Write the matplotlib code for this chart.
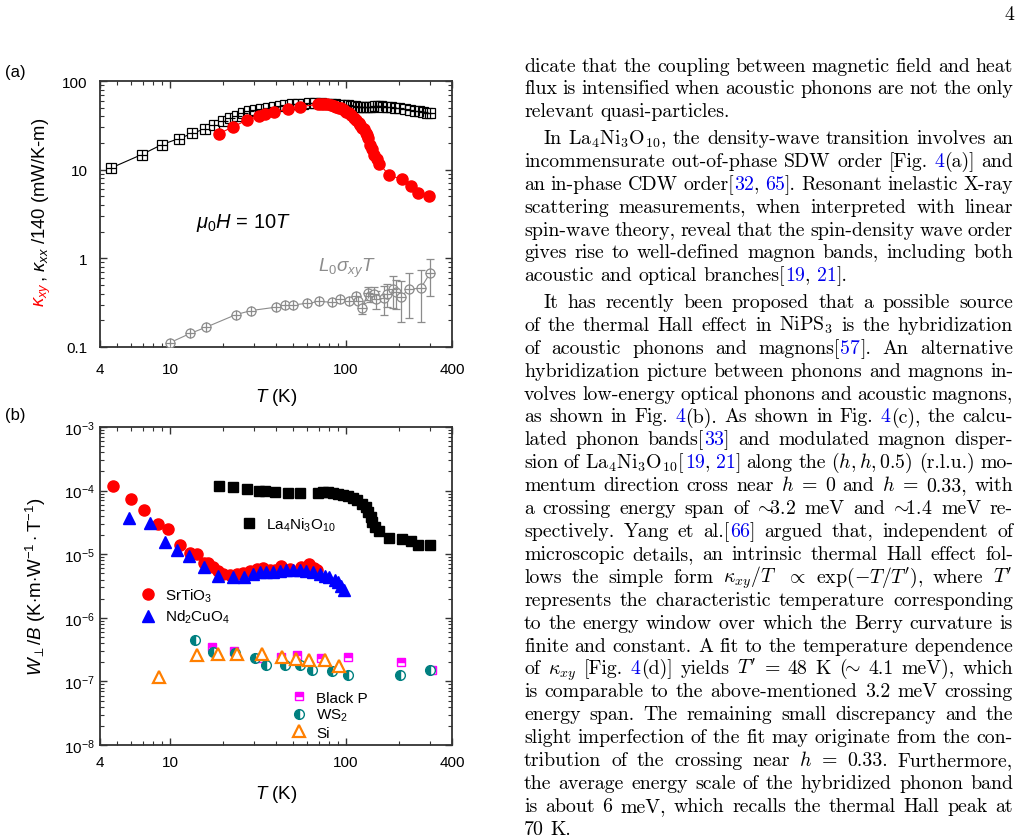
import matplotlib
matplotlib.use('Agg')
import matplotlib.pyplot as plt

plt.rcParams['font.family'] = 'Liberation Sans'
plt.rcParams['mathtext.fontset'] = 'custom'
plt.rcParams['mathtext.rm'] = 'Liberation Sans'
plt.rcParams['mathtext.it'] = 'Liberation Sans:italic'
plt.rcParams['mathtext.bf'] = 'Liberation Sans:bold'

W, H = 1021, 837

# ---- panel (a) data ----
kxx_T = [4.6, 6.9, 9.0, 11.2, 13.4, 15.7, 17.8, 20, 22, 24, 26, 28, 30.5, 33, 36, 39, 42, 45, 49, 53,
         57, 62, 67, 72, 77, 82, 87, 92, 97, 102, 107, 112, 117, 122, 127, 132, 137, 142, 147, 152,
         157, 162, 170, 180, 190, 200, 215, 230, 245, 260, 275, 290, 300]
kxx = [10.4, 14.8, 19.2, 22.4, 25.6, 28.9, 32, 35, 37.8, 40.5, 43, 45.5, 47, 48.5, 50, 51.5, 52.5, 53.5, 54.5, 55,
       55.5, 56, 56, 56, 55.5, 55, 54.5, 54, 53.5, 53, 52.5, 52, 51.5, 51, 50.5, 50.5, 51, 51.5, 52, 52,
       52, 51.5, 51, 50.5, 50, 49, 48, 47, 46, 45.5, 44.5, 44, 43]

kxy_T = [18.9, 22.8, 27.2, 32, 34.5, 38.9, 46.8, 54.5, 69, 72, 75, 78, 82, 85, 88, 91, 94, 97, 100, 104,
         107, 111, 114, 118, 120, 124, 127, 130, 132, 134, 137, 140, 145, 150, 154.5, 176, 209, 233, 255, 296]
kxy = [25.4, 30.4, 36.1, 39.8, 42, 44.2, 48.2, 51.2, 54.5, 55, 55, 54.5, 53.8, 52.5, 51, 50, 49, 47, 45, 43,
       41.3, 38.5, 36, 33.5, 31.7, 29.5, 28.6, 26, 24.5, 22.5, 19, 17.3, 14.5, 13.3, 11.7, 8.6, 7.8, 6.6, 5.5, 5.0]

lsig_T = [10, 13, 16, 23.7, 29, 39.8, 44.8, 49.9, 59.8, 70, 83.3, 92.5, 103.5, 114, 117, 124, 133, 137, 145, 148,
          165, 172, 185, 192, 205, 228, 266, 300]
lsig = [0.112, 0.142, 0.167, 0.232, 0.258, 0.281, 0.299, 0.299, 0.31, 0.326, 0.32, 0.352, 0.326, 0.373, 0.33,
        0.277, 0.405, 0.38, 0.40, 0.35, 0.36, 0.40, 0.455, 0.42, 0.37, 0.45, 0.46, 0.68]
lsig_err = [0, 0, 0, 0, 0, 0, 0, 0, 0, 0, 0, 0, 0, 0.03, 0.02, 0.04, 0.07, 0.06, 0.08, 0.08,
            0.13, 0.12, 0.18, 0.15, 0.18, 0.24, 0.27, 0.3]

# ---- panel (b) data ----
la_T = [19, 22.8, 27.2, 32, 34.5, 39.3, 46.8, 54.5, 69, 74, 79, 84, 90, 95.5, 102, 109, 116, 124, 130, 134,
        138, 141, 146, 154, 176, 209, 233, 255, 300]
la_W = [1.2e-4, 1.13e-4, 1.07e-4, 1.0e-4, 9.8e-5, 9.5e-5, 9.1e-5, 9.1e-5, 9.2e-5, 9.5e-5, 9.5e-5, 9.2e-5,
        8.9e-5, 8.4e-5, 8.1e-5, 7.6e-5, 7.0e-5, 6.2e-5, 5.5e-5, 4.6e-5, 3.8e-5, 3.2e-5, 2.7e-5, 2.3e-5,
        1.8e-5, 1.75e-5, 1.6e-5, 1.42e-5, 1.38e-5]

sto_T = [4.73, 5.99, 7.13, 8.51, 9.7, 11.4, 12.9, 14.2, 15.6, 16.5, 17.6, 18.8, 20, 21.9, 24, 26, 28.4, 31,
         33.8, 36.8, 39.3, 42.5, 47.8, 55.6, 62, 66, 68]
sto_W = [1.2e-4, 7.35e-5, 4.99e-5, 2.97e-5, 2.48e-5, 1.42e-5, 1.06e-5, 9.9e-6, 7.3e-6, 7.2e-6, 6.2e-6, 5.5e-6,
         4.9e-6, 4.65e-6, 4.8e-6, 5.1e-6, 5.5e-6, 5.9e-6, 6.0e-6, 5.7e-6, 5.7e-6, 6.6e-6, 5.9e-6, 6.3e-6,
         7.05e-6, 6.0e-6, 5.7e-6]

nco_T = [5.81, 7.65, 9.37, 10.9, 12.8, 15.5, 18.8, 22.8, 26.3, 29.6, 32.3, 35.3, 38.4, 42, 45.8, 49.9, 54.5,
         59.5, 64.9, 70.8, 75.5, 80.5, 86, 89.8, 93.7, 97.8]
nco_W = [3.73e-5, 3.1e-5, 1.58e-5, 1.18e-5, 9.5e-6, 6.4e-6, 4.6e-6, 4.4e-6, 4.4e-6, 4.9e-6, 5.2e-6, 5.3e-6,
         5.3e-6, 5.5e-6, 5.6e-6, 5.7e-6, 5.7e-6, 5.5e-6, 5.2e-6, 4.9e-6, 4.6e-6, 4.4e-6, 3.9e-6, 3.6e-6,
         3.2e-6, 2.7e-6]

bp_T = [17.4, 23.1, 33, 42.5, 52.8, 72.2, 102, 205, 307]
bp_W = [3.43e-7, 2.96e-7, 2.3e-7, 2.44e-7, 2.6e-7, 2.3e-7, 2.44e-7, 2.04e-7, 1.51e-7]

ws2_T = [13.9, 17.6, 23.3, 30.3, 35.2, 44.8, 54.5, 64.2, 83.4, 103, 203, 300]
ws2_W = [4.53e-7, 2.86e-7, 2.78e-7, 2.3e-7, 1.81e-7, 1.81e-7, 1.81e-7, 1.53e-7, 1.45e-7, 1.26e-7, 1.26e-7, 1.51e-7]

si_T = [8.7, 14.2, 18.8, 23.9, 33.2, 43, 52, 62, 76, 91.5]
si_W = [1.18e-7, 2.6e-7, 2.67e-7, 2.7e-7, 2.67e-7, 2.44e-7, 2.27e-7, 2.2e-7, 2.15e-7, 1.73e-7]

x_ticks = [4, 10, 100, 400]
x_tick_labels = ['4', '10', '100', '400']
a_yticks = [0.1, 1, 10, 100]
a_ytick_labels = ['0.1', '1', '10', '100']

# ---- text column ----
SIM = r'$\!\!\sim\!\!$'
paragraphs = [
    (False, 71.5, [
        "dicate that the coupling between magnetic field and heat",
        "flux is intensified when acoustic phonons are not the only",
        "relevant quasi-particles.",
    ]),
    (True, 144.0, [
        "In La$_4$Ni$_3$O$_{10}$, the density-wave transition involves an",
        "incommensurate out-of-phase SDW order [Fig. |4|(a)] and",
        "an in-phase CDW order[|32|, |65|]. Resonant inelastic X-ray",
        "scattering measurements, when interpreted with linear",
        "spin-wave theory, reveal that the spin-density wave order",
        "gives rise to well-defined magnon bands, including both",
        "acoustic and optical branches[|19|, |21|].",
    ]),
    (True, 308.0, [
        "It has recently been proposed that a possible source",
        "of the thermal Hall effect in NiPS$_3$ is the hybridization",
        "of acoustic phonons and magnons[|57|]. An alternative",
        "hybridization picture between phonons and magnons in-",
        "volves low-energy optical phonons and acoustic magnons,",
        "as shown in Fig. |4|(b). As shown in Fig. |4|(c), the calcu-",
        "lated phonon bands[|33|] and modulated magnon disper-",
        "sion of La$_4$Ni$_3$O$_{10}$[|19|, |21|] along the $(h,h,0.5)$ (r.l.u.) mo-",
        "mentum direction cross near $h$ = 0 and $h$ = 0.33, with",
        "a crossing energy span of " + SIM + "3.2 meV and " + SIM + "1.4 meV re-",
        "spectively. Yang et al.[|66|] argued that, independent of",
        "microscopic details, an intrinsic thermal Hall effect fol-",
        "lows the simple form $\\kappa_{xy}/T$ $\\propto$ exp($-T/T'$), where $T'$",
        "represents the characteristic temperature corresponding",
        "to the energy window over which the Berry curvature is",
        "finite and constant. A fit to the temperature dependence",
        "of $\\kappa_{xy}$ [Fig. |4|(d)] yields $T'$ = 48 K (" + SIM + " 4.1 meV), which",
        "is comparable to the above-mentioned 3.2 meV crossing",
        "energy span. The remaining small discrepancy and the",
        "slight imperfection of the fit may originate from the con-",
        "tribution of the crossing near $h$ = 0.33. Furthermore,",
        "the average energy scale of the hybridized phonon band",
        "is about 6 meV, which recalls the thermal Hall peak at",
        "70 K.",
    ]),
]


def fx(x):
    return x / W


def fy(y):
    return 1 - y / H


def style_axes(ax, xpad, ypad):
    ax.set_xscale('log')
    ax.set_yscale('log')
    ax.set_xlim(4, 400)
    ax.set_xticks(x_ticks)
    ax.set_xticklabels(x_tick_labels)
    ax.tick_params(which='both', direction='in', top=True, right=True, colors='#333333',
                   labelcolor='black', labelsize=11)
    ax.tick_params(which='major', length=5, width=1.0)
    ax.tick_params(which='minor', length=3, width=0.8)
    ax.tick_params(axis='x', pad=xpad)
    ax.tick_params(axis='y', pad=ypad)
    for s in ax.spines.values():
        s.set_linewidth(1.3)
        s.set_color('#333333')


fig = plt.figure(figsize=(W / 100, H / 100), dpi=100)
renderer = fig.canvas.get_renderer()

# ---------------- panel (a) ----------------
ax1 = fig.add_axes([fx(100), fy(348), 352 / W, 266 / H])
ax1.plot(kxx_T, kxx, '-', color='black', lw=0.8, zorder=2)
ax1.plot(kxx_T, kxx, 's', ms=6.5, mfc='white', mec='black', mew=0.9, zorder=3)
ax1.plot(kxx_T, kxx, '+', ms=6.5, mec='black', mew=0.9, zorder=4)
ax1.plot(kxy_T, kxy, '-', color='red', lw=0.8, zorder=5)
ax1.plot(kxy_T, kxy, 'o', ms=8, color='red', mec='red', zorder=6)
ax1.errorbar(lsig_T, lsig, yerr=lsig_err, fmt='none', ecolor='#8c8c8c', elinewidth=0.9,
             capsize=3, capthick=0.9, zorder=2)
ax1.plot(lsig_T, lsig, '-', color='#8c8c8c', lw=0.8, zorder=2)
ax1.plot(lsig_T, lsig, 'o', ms=6.5, mfc='white', mec='#8c8c8c', mew=0.9, zorder=3)
ax1.plot(lsig_T, lsig, '+', ms=6.5, mec='#8c8c8c', mew=0.9, zorder=4)
style_axes(ax1, 11, 9)
ax1.set_ylim(0.1, 100)
ax1.set_yticks(a_yticks)
ax1.set_yticklabels(a_ytick_labels)
ax1.set_xlabel('$T$ (K)', fontsize=13.5)
ax1.xaxis.set_label_coords(0.5, -0.145)
ax1.text(14.0, 2.6, r'$\mu_0H$ = 10$T$', fontsize=14.5, va='center', ha='left')
ax1.text(69, 0.8, r'$L_0\sigma_{xy}T$', fontsize=13.5, color='#8c8c8c', va='center', ha='left')

# two-colour y label
ylab_red = fig.text(fx(45), fy(307), r'$\kappa_{xy}$', color='red', fontsize=13.3, rotation=90,
                    rotation_mode='anchor', ha='left', va='baseline')
red_len = ylab_red.get_window_extent(renderer).height
fig.text(fx(45), fy(307 - red_len), r', $\kappa_{xx}$ /140 (mW/K-m)', color='black', fontsize=13.3,
         rotation=90, rotation_mode='anchor', ha='left', va='baseline')

# ---------------- panel (b) ----------------
ax2 = fig.add_axes([fx(100), fy(746), 352 / W, 318 / H])
h_bp, = ax2.plot(bp_T, bp_W, 's', ms=6, mfc='#ff00ff', mfcalt='white', fillstyle='top',
                 mec='#ff00ff', mew=1.0, label='Black P')
h_ws, = ax2.plot(ws2_T, ws2_W, 'o', ms=7, mfc='#008080', mfcalt='white', fillstyle='left',
                 mec='#008080', mew=1.0, label='WS$_2$')
h_si, = ax2.plot(si_T, si_W, '^', ms=8, mfc='white', mec='#ff7f00', mew=1.6, label='Si')
h_sto, = ax2.plot(sto_T, sto_W, 'o', ms=8, color='red', label='SrTiO$_3$')
h_nco, = ax2.plot(nco_T, nco_W, '^', ms=8.5, color='blue', label='Nd$_2$CuO$_4$')
h_la, = ax2.plot(la_T, la_W, 's', ms=6.5, color='black', label='La$_4$Ni$_3$O$_{10}$')
style_axes(ax2, 7, 4)
ax2.set_ylim(1e-8, 1e-3)
ax2.set_xlabel('$T$ (K)', fontsize=13.5)
ax2.xaxis.set_label_coords(0.5, -0.12)
ax2.set_ylabel(r'$W_{\perp}/B$ (K$\cdot$m$\cdot$W$^{-1}\cdot$T$^{-1}$)', fontsize=13.5)
ax2.yaxis.set_label_coords(-0.148, 0.5)

leg_kw = dict(frameon=False, fontsize=11, handlelength=1.0, handletextpad=0.6, borderpad=0,
              borderaxespad=0, numpoints=1, loc='center left')
leg1 = ax2.legend(handles=[h_la], bbox_to_anchor=(0.403, 0.695), **leg_kw)
ax2.add_artist(leg1)
leg2 = ax2.legend(handles=[h_sto, h_nco], bbox_to_anchor=(0.115, 0.437), labelspacing=0.25, **leg_kw)
ax2.add_artist(leg2)
ax2.legend(handles=[h_bp, h_ws, h_si], bbox_to_anchor=(0.545, 0.094), labelspacing=0.15, **leg_kw)

# panel labels and page number
fig.text(fx(5), fy(73), '(a)', fontsize=12, va='center', ha='left')
fig.text(fx(5), fy(416), '(b)', fontsize=12, va='center', ha='left')
fig.text(fx(1014), fy(20), '4', fontsize=14.3, family='cmr10', ha='right', va='baseline')

# ---------------- text column (justified) ----------------
left, right = 524.0, 1013.0
fs = 14.3
line_gap = 22.9
space = fs * 100 / 72 * 0.333
for indent, y0, lines in paragraphs:
    for i, line in enumerate(lines):
        y = y0 + i * line_gap
        words = line.split(' ')
        parts = []
        for w in words:
            segs = []
            for k, s in enumerate(w.split('|')):
                if s == '':
                    continue
                t = fig.text(0, fy(y), s, fontsize=fs, family='cmr10', math_fontfamily='cm',
                             color='#0000ee' if k % 2 else 'black', ha='left', va='baseline')
                segs.append((t, t.get_window_extent(renderer).width))
            parts.append(segs)
        widths = [sum(wd for _, wd in p) for p in parts]
        x0 = left + (19.5 if indent and i == 0 else 0)
        if i == len(lines) - 1 or len(parts) < 2:
            gap = space
        else:
            gap = (right - x0 - sum(widths)) / (len(parts) - 1)
        x = x0
        for p in parts:
            for t, wd in p:
                t.set_x(fx(x))
                x += wd
            x += gap

fig.savefig('out.png', dpi=100)
